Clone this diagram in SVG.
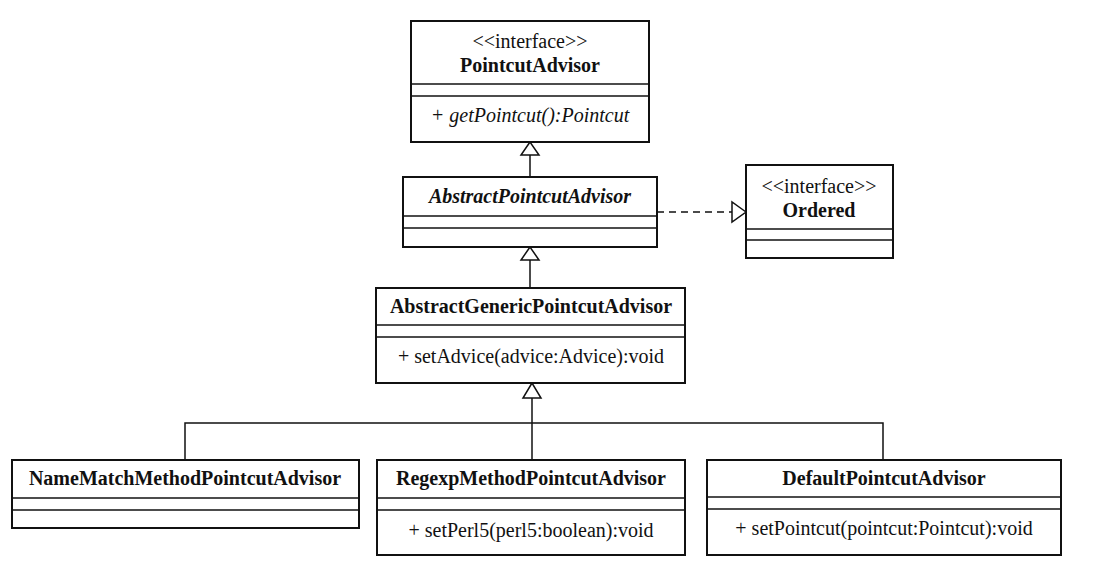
<svg xmlns="http://www.w3.org/2000/svg" width="1106" height="570" viewBox="0 0 1106 570">
<style>
.box{fill:#fff;stroke:#111;stroke-width:2}
.sep{stroke:#111;stroke-width:1.5}
.t{font-family:"Liberation Serif","Times New Roman",serif;font-size:20px;fill:#111;text-anchor:middle}
.b{font-weight:bold}
.i{font-style:italic}
.ln{fill:none;stroke:#111;stroke-width:1.5}
.dash{stroke-dasharray:7 5}
.tri{fill:#fff;stroke:#111;stroke-width:1.5}
</style>
<rect width="1106" height="570" fill="#fff"/>
<g id="connectors">
<line class="ln" x1="530" y1="155" x2="530" y2="177"/>
<polygon class="tri" points="530,142 521,155 539,155"/>
<line class="ln" x1="530" y1="260" x2="530" y2="288"/>
<polygon class="tri" points="530,247 521,260 539,260"/>
<line class="ln dash" x1="657" y1="212" x2="732" y2="212"/>
<polygon class="tri" points="746,212 732,202 732,222"/>
<polyline class="ln" points="532,398 532,460"/>
<polygon class="tri" points="532,383 523,398 541,398"/>
<polyline class="ln" points="185,460 185,423 883,423 883,460"/>
</g>
<g id="PointcutAdvisor">
<rect class="box" x="411" y="21" width="238" height="121"/>
<line class="sep" x1="411" y1="84" x2="649" y2="84"/>
<line class="sep" x1="411" y1="96" x2="649" y2="96"/>
<text class="t" x="530" y="48">&lt;&lt;interface&gt;&gt;</text>
<text class="t b" x="530" y="72">PointcutAdvisor</text>
<text class="t i" x="530" y="122">+ getPointcut():Pointcut</text>
</g>
<g id="AbstractPointcutAdvisor">
<rect class="box" x="403" y="177" width="254" height="70"/>
<line class="sep" x1="403" y1="216" x2="657" y2="216"/>
<line class="sep" x1="403" y1="228" x2="657" y2="228"/>
<text class="t b i" x="530" y="203">AbstractPointcutAdvisor</text>
</g>
<g id="Ordered">
<rect class="box" x="746" y="165" width="147" height="93"/>
<line class="sep" x1="746" y1="229" x2="893" y2="229"/>
<line class="sep" x1="746" y1="240" x2="893" y2="240"/>
<text class="t" x="819" y="193">&lt;&lt;interface&gt;&gt;</text>
<text class="t b" x="819" y="217">Ordered</text>
</g>
<g id="AbstractGenericPointcutAdvisor">
<rect class="box" x="376" y="288" width="309" height="95"/>
<line class="sep" x1="376" y1="325" x2="685" y2="325"/>
<line class="sep" x1="376" y1="337" x2="685" y2="337"/>
<text class="t b" x="531" y="313">AbstractGenericPointcutAdvisor</text>
<text class="t" x="531" y="363">+ setAdvice(advice:Advice):void</text>
</g>
<g id="NameMatchMethodPointcutAdvisor">
<rect class="box" x="12" y="460" width="347" height="68"/>
<line class="sep" x1="12" y1="498" x2="359" y2="498"/>
<line class="sep" x1="12" y1="510" x2="359" y2="510"/>
<text class="t b" x="185" y="485">NameMatchMethodPointcutAdvisor</text>
</g>
<g id="RegexpMethodPointcutAdvisor">
<rect class="box" x="377" y="460" width="308" height="95"/>
<line class="sep" x1="377" y1="498" x2="685" y2="498"/>
<line class="sep" x1="377" y1="510" x2="685" y2="510"/>
<text class="t b" x="531" y="485">RegexpMethodPointcutAdvisor</text>
<text class="t" x="531" y="537">+ setPerl5(perl5:boolean):void</text>
</g>
<g id="DefaultPointcutAdvisor">
<rect class="box" x="707" y="460" width="354" height="95"/>
<line class="sep" x1="707" y1="497" x2="1061" y2="497"/>
<line class="sep" x1="707" y1="509" x2="1061" y2="509"/>
<text class="t b" x="884" y="485">DefaultPointcutAdvisor</text>
<text class="t" x="884" y="535">+ setPointcut(pointcut:Pointcut):void</text>
</g>
</svg>
